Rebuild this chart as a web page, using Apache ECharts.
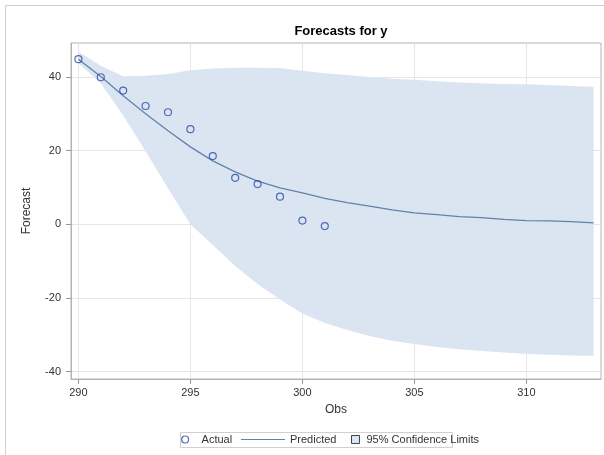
<!DOCTYPE html>
<html>
<head>
<meta charset="utf-8">
<title>Forecasts for y</title>
<script src="https://cdn.jsdelivr.net/npm/echarts@6/dist/echarts.min.js"></script>
<style>
  html, body { margin: 0; padding: 0; background: #fff; }
  #chart { width: 604px; height: 455px; }
</style>
</head>
<body>
<div id="chart"></div>
<script>
// observation numbers
const obs = [290, 291, 292, 293, 294, 295, 296, 297, 298, 299, 300, 301,
  302, 303, 304, 305, 306, 307, 308, 309, 310, 311, 312, 313]
// actual values (only up to 301)
const actual = [44.8, 39.9, 36.3, 32.1, 30.4, 25.8, 18.5, 12.6, 10.9, 7.5, 1.0, -0.5]
// predicted line
const predicted = [44.8, 40.1, 34.9, 30.0, 25.4, 21.0, 17.2, 14.2, 11.7, 9.9, 8.5, 7.0,
  5.9, 4.9, 3.9, 3.1, 2.6, 2.1, 1.8, 1.3, 1.0, 0.9, 0.7, 0.4]
// 95% confidence limits
const upper = [46.8, 43.0, 40.2, 40.3, 40.8, 41.8, 42.3, 42.5, 42.5, 42.4, 41.7, 41.0,
  40.5, 40.0, 39.5, 39.2, 38.8, 38.5, 38.3, 38.1, 38.0, 37.8, 37.5, 37.3]
const lower = [43.7, 38.3, 29.5, 19.8, 9.8, 0.0, -5.6, -11.3, -16.2, -20.4, -24.2, -26.8,
  -28.7, -30.3, -31.6, -32.5, -33.3, -33.9, -34.4, -34.8, -35.2, -35.4, -35.6, -35.7]
// tick labels
const xTicks = [290, 295, 300, 305, 310]
const yTicks = [-40, -20, 0, 20, 40]

const font = 'Liberation Sans, Arial, sans-serif'
const bandColor = '#dbe5f1'
const lineColor = '#6480ad'
const markerColor = '#2a49a8'

const chart = echarts.init(document.getElementById('chart'))

chart.setOption({
  animation: false,
  backgroundColor: '#fff',
  title: {
    text: 'Forecasts for y',
    left: 336,
    top: 20,
    textAlign: 'center',
    textStyle: { fontFamily: font, fontSize: 13, fontWeight: 'bold', color: '#000' }
  },
  graphic: [
    {
      type: 'rect',
      z: -10,
      shape: { x: 5.5, y: 5.5, width: 700, height: 700 },
      style: { fill: 'none', stroke: '#cfcfcf', lineWidth: 1 }
    },
    {
      type: 'rect',
      z: -10,
      shape: { x: 180.5, y: 432.5, width: 272, height: 15 },
      style: { fill: '#fff', stroke: '#d0d0d0', lineWidth: 1 }
    }
  ],
  legend: [
    {
      left: 181, top: 434,
      itemWidth: 7, itemHeight: 7, itemGap: 0,
      padding: 0,
      textStyle: { fontFamily: font, fontSize: 11, color: '#333', padding: [0, 0, 0, 8] },
      data: [{ name: 'Actual', icon: 'circle', itemStyle: { color: '#fff', borderColor: markerColor, borderWidth: 1.2 } }]
    },
    {
      left: 241, top: 434,
      itemWidth: 44, itemHeight: 7, itemGap: 0,
      padding: 0,
      textStyle: { fontFamily: font, fontSize: 11, color: '#333' },
      data: [{ name: 'Predicted', icon: 'path://M0,0H44V1.2H0Z', itemStyle: { color: lineColor } }]
    },
    {
      left: 351, top: 434,
      itemWidth: 8, itemHeight: 8, itemGap: 0,
      padding: 0,
      textStyle: { fontFamily: font, fontSize: 11, color: '#333', padding: [0, 0, 0, 2] },
      data: [{ name: '95% Confidence Limits', icon: 'rect', itemStyle: { color: bandColor, borderColor: '#444', borderWidth: 1 } }]
    }
  ],
  grid: {
    left: 71,
    top: 43,
    right: 3,
    bottom: 76,
    show: true,
    borderColor: '#b4b4b4',
    borderWidth: 1
  },
  xAxis: {
    type: 'value',
    min: 289.67,
    max: 313.33,
    name: 'Obs',
    nameLocation: 'middle',
    nameGap: 25,
    nameTextStyle: { fontFamily: font, fontSize: 12, color: '#333' },
    axisLine: { show: true, onZero: false, lineStyle: { color: '#b4b4b4' } },
    axisTick: { show: true, length: 5, customValues: xTicks, lineStyle: { color: '#999' } },
    axisLabel: { customValues: xTicks, margin: 8, fontFamily: font, fontSize: 11, color: '#333' },
    splitLine: { show: true, lineStyle: { color: '#e6e6e6' } }
  },
  yAxis: {
    type: 'value',
    min: -42,
    max: 49.2,
    name: 'Forecast',
    nameLocation: 'middle',
    nameGap: 38,
    nameTextStyle: { fontFamily: font, fontSize: 12, color: '#333' },
    axisLine: { show: true, onZero: false, lineStyle: { color: '#b4b4b4' } },
    axisTick: { show: true, length: 5, customValues: yTicks, lineStyle: { color: '#999' } },
    axisLabel: { customValues: yTicks, margin: 10, fontFamily: font, fontSize: 11, color: '#333' },
    splitLine: { show: true, lineStyle: { color: '#e6e6e6' } }
  },
  series: [
    {
      name: '95% Confidence Limits',
      type: 'custom',
      z: 1,
      silent: true,
      itemStyle: { color: bandColor },
      data: obs.map((x, i) => [x, lower[i], upper[i]]),
      encode: { x: 0, y: [1, 2] },
      renderItem(params, api) {
        if (params.dataIndex !== 0) return null
        const pts = []
        obs.forEach((x, i) => pts.push(api.coord([x, upper[i]])))
        for (let i = obs.length - 1; i >= 0; i--) pts.push(api.coord([obs[i], lower[i]]))
        return {
          type: 'polygon',
          shape: { points: pts },
          style: { fill: bandColor }
        }
      }
    },
    {
      name: 'Predicted',
      type: 'line',
      z: 3,
      symbol: 'none',
      lineStyle: { color: lineColor, width: 1.3 },
      itemStyle: { color: lineColor },
      data: obs.map((x, i) => [x, predicted[i]])
    },
    {
      name: 'Actual',
      type: 'scatter',
      z: 4,
      symbol: 'circle',
      symbolSize: 7,
      itemStyle: { color: 'rgba(0,0,0,0)', borderColor: markerColor, borderWidth: 1.2 },
      data: actual.map((v, i) => [obs[i], v])
    }
  ]
})
</script>
</body>
</html>
